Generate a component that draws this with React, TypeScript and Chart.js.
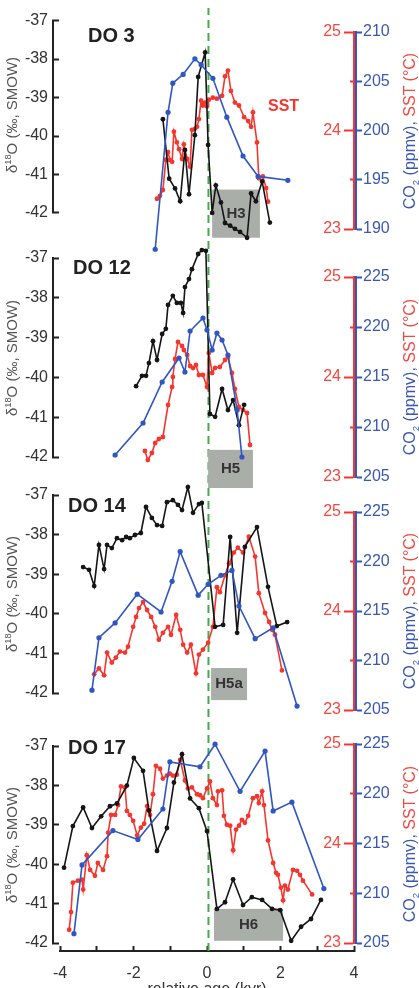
import React, { useEffect, useRef } from 'react';
import { Chart, registerables } from 'chart.js';

Chart.register(...registerables);

const W = 419;
const H = 988;
const FONT = '"Liberation Sans", Arial, Helvetica, sans-serif';
Chart.defaults.font.family = FONT;

// ---------- axis values ----------
const AGE_RANGE: [number, number] = [-4, 4];
const AGE_LABELED = [-4, -2, 0, 2, 4];
const O18_RANGE: [number, number] = [-42, -37];
const SST_RANGE: [number, number] = [23, 25];
const CO2_RANGE_DO3: [number, number] = [190, 210];
const CO2_RANGE_DO12: [number, number] = [205, 225];
const CO2_RANGE_DO14: [number, number] = [205, 225];
const CO2_RANGE_DO17: [number, number] = [205, 225];
const ZERO_AGE = 0.04;

// ---------- DO 3 ----------
const DO3_O18: [number, number][] = [
  [-1.20, -39.56], [-1.03, -41.09], [-0.87, -41.34], [-0.73, -41.67], [-0.60, -40.35], [-0.49, -41.49],
  [-0.33, -39.97], [-0.24, -38.47], [-0.05, -37.84], [0.03, -40.22], [0.14, -41.97], [0.24, -41.26],
  [0.38, -41.70], [0.49, -42.23], [0.63, -42.30], [0.76, -42.38], [0.90, -42.46], [1.09, -42.61],
  [1.20, -41.47], [1.33, -41.67], [1.50, -41.16], [1.71, -42.22],
];
const DO3_SST: [number, number][] = [
  [-1.36, 23.32], [-1.28, 23.35], [-1.20, 23.41], [-1.12, 23.72], [-1.06, 23.80], [-1.01, 23.72],
  [-0.95, 23.70], [-0.90, 24.01], [-0.82, 23.90], [-0.76, 23.83], [-0.68, 23.73], [-0.63, 23.88],
  [-0.54, 23.73], [-0.46, 23.65], [-0.41, 24.03], [-0.33, 24.04], [-0.27, 24.06], [-0.22, 24.14],
  [-0.16, 24.33], [-0.11, 24.28], [-0.05, 24.31], [0.00, 24.27], [0.05, 24.34], [0.16, 24.36],
  [0.27, 24.35], [0.41, 24.38], [0.49, 24.58], [0.57, 24.64], [0.65, 24.43], [0.76, 24.31],
  [0.87, 24.28], [1.01, 24.16], [1.12, 24.12], [1.20, 24.06], [1.25, 24.21], [1.36, 23.90],
  [1.41, 23.53], [1.52, 23.55], [1.61, 23.43], [1.66, 23.29],
];
const DO3_CO2: [number, number][] = [
  [-1.41, 188.0], [-1.06, 202.1], [-0.93, 205.1], [-0.65, 206.0], [-0.33, 207.6], [-0.16, 207.0],
  [0.16, 205.6], [0.54, 201.6], [0.98, 197.6], [1.39, 195.5], [2.20, 195.1],
];

// ---------- DO 12 ----------
const DO12_O18: [number, number][] = [
  [-1.93, -40.22], [-1.77, -39.96], [-1.66, -39.96], [-1.58, -39.64], [-1.47, -39.09], [-1.36, -39.56],
  [-1.22, -38.91], [-1.12, -38.78], [-1.06, -38.18], [-0.93, -37.95], [-0.82, -38.13], [-0.71, -38.13],
  [-0.65, -38.38], [-0.60, -37.73], [-0.49, -37.53], [-0.41, -37.28], [-0.24, -36.90], [-0.14, -36.80],
  [-0.03, -36.82], [0.08, -40.92], [0.22, -40.99], [0.41, -40.29], [0.57, -40.82], [0.71, -40.57],
  [0.87, -41.20], [1.01, -40.69],
];
const DO12_SST: [number, number][] = [
  [-1.69, 23.26], [-1.61, 23.17], [-1.50, 23.24], [-1.41, 23.34], [-1.31, 23.38], [-1.20, 23.40],
  [-1.06, 23.72], [-0.95, 23.90], [-0.93, 24.00], [-0.87, 24.18], [-0.79, 24.35], [-0.68, 24.31],
  [-0.63, 24.27], [-0.54, 24.22], [-0.46, 24.11], [-0.38, 24.09], [-0.30, 24.12], [-0.22, 24.02],
  [-0.11, 24.02], [0.00, 23.90], [0.05, 24.24], [0.14, 24.04], [0.22, 24.09], [0.35, 24.10],
  [0.49, 24.17], [0.57, 24.20], [0.68, 24.04], [0.76, 23.88], [0.87, 23.70], [0.98, 23.67],
  [1.09, 23.64], [1.17, 23.32],
];
const DO12_CO2: [number, number][] = [
  [-2.50, 207.2], [-1.74, 210.4], [-1.22, 214.5], [-0.76, 216.9], [-0.60, 215.5], [-0.46, 219.6],
  [-0.11, 220.9], [0.00, 219.7], [0.14, 217.7], [0.27, 219.4], [0.41, 218.7], [0.57, 217.2],
  [0.82, 211.7], [0.95, 207.0],
];

// ---------- DO 14 ----------
const DO14_O18: [number, number][] = [
  [-3.37, -38.82], [-3.21, -38.89], [-3.07, -39.30], [-2.94, -38.26], [-2.80, -38.87], [-2.72, -38.26],
  [-2.59, -38.34], [-2.45, -38.09], [-2.31, -38.14], [-2.20, -38.06], [-2.10, -38.09], [-1.96, -38.01],
  [-1.80, -37.96], [-1.66, -37.30], [-1.50, -37.58], [-1.36, -37.76], [-1.22, -37.78], [-1.09, -37.18],
  [-0.93, -37.13], [-0.79, -37.25], [-0.68, -37.38], [-0.52, -36.80], [-0.38, -37.45], [-0.22, -37.23],
  [-0.14, -37.20], [0.22, -40.33], [0.44, -40.28], [0.63, -38.06], [0.82, -40.48], [1.03, -38.31],
  [1.36, -37.81], [1.66, -39.32], [1.90, -40.31], [2.18, -40.21],
];
const DO14_SST: [number, number][] = [
  [-3.07, 23.36], [-2.94, 23.42], [-2.80, 23.35], [-2.72, 23.58], [-2.59, 23.48], [-2.48, 23.53],
  [-2.37, 23.59], [-2.23, 23.58], [-2.15, 23.64], [-2.01, 23.84], [-1.93, 23.94], [-1.85, 24.03],
  [-1.74, 24.09], [-1.63, 24.01], [-1.52, 23.94], [-1.41, 23.84], [-1.31, 23.71], [-1.20, 23.78],
  [-1.06, 23.84], [-0.98, 23.76], [-0.84, 23.96], [-0.73, 23.81], [-0.65, 23.66], [-0.54, 23.58],
  [-0.44, 23.66], [-0.30, 23.37], [-0.22, 23.56], [-0.11, 23.61], [0.03, 23.68], [0.16, 23.84],
  [0.27, 24.24], [0.35, 24.19], [0.49, 24.36], [0.60, 24.48], [0.73, 24.59], [0.84, 24.64],
  [0.98, 24.59], [1.14, 24.75], [1.31, 24.55], [1.41, 24.18], [1.58, 23.98], [1.69, 23.89],
  [1.77, 23.81], [1.85, 23.76], [2.04, 23.40],
];
const DO14_CO2: [number, number][] = [
  [-3.13, 207.0], [-2.94, 212.3], [-2.50, 213.8], [-1.90, 216.7], [-1.25, 214.9], [-0.95, 218.0],
  [-0.73, 221.0], [-0.24, 216.6], [0.03, 217.7], [0.38, 218.6], [0.68, 219.1], [0.87, 215.5],
  [1.31, 212.2], [1.80, 213.3], [2.45, 205.4],
];

// ---------- DO 17 ----------
const DO17_O18: [number, number][] = [
  [-3.89, -40.15], [-3.65, -39.08], [-3.37, -38.60], [-3.13, -39.13], [-2.88, -38.83], [-2.64, -38.57],
  [-2.45, -38.50], [-2.18, -38.04], [-1.99, -37.33], [-1.74, -37.66], [-1.58, -38.68], [-1.36, -39.72],
  [-1.09, -39.13], [-0.90, -37.96], [-0.68, -37.23], [-0.46, -38.37], [-0.22, -38.62], [0.00, -39.21],
  [0.27, -41.21], [0.49, -41.04], [0.71, -40.45], [0.98, -41.11], [1.22, -40.91], [1.50, -40.98],
  [1.77, -41.21], [1.99, -41.24], [2.29, -42.03], [2.56, -41.67], [2.83, -41.47], [3.10, -40.98],
];
const DO17_SST: [number, number][] = [
  [-3.75, 23.10], [-3.70, 23.28], [-3.65, 23.58], [-3.51, 23.60], [-3.40, 23.61], [-3.37, 23.51],
  [-3.27, 23.86], [-3.18, 23.71], [-3.05, 23.65], [-2.97, 23.78], [-2.83, 23.71], [-2.72, 23.85],
  [-2.69, 24.09], [-2.61, 24.27], [-2.50, 24.27], [-2.42, 24.37], [-2.34, 24.56], [-2.23, 24.55],
  [-2.18, 24.31], [-2.10, 24.27], [-2.01, 24.21], [-1.90, 24.06], [-1.80, 24.14], [-1.71, 24.18],
  [-1.63, 24.36], [-1.55, 24.27], [-1.47, 24.48], [-1.39, 24.77], [-1.28, 24.74], [-1.20, 24.64],
  [-1.09, 24.67], [-1.01, 24.69], [-0.93, 24.67], [-0.82, 24.68], [-0.73, 24.83], [-0.60, 24.62],
  [-0.52, 24.54], [-0.41, 24.55], [-0.27, 24.48], [-0.19, 24.47], [-0.11, 24.44], [0.00, 24.54],
  [0.08, 24.61], [0.16, 24.44], [0.27, 24.37], [0.30, 24.51], [0.41, 24.52], [0.46, 24.26],
  [0.54, 24.17], [0.63, 24.16], [0.71, 23.91], [0.79, 24.12], [0.87, 24.16], [0.95, 24.22],
  [1.03, 24.19], [1.12, 24.26], [1.25, 24.44], [1.36, 24.46], [1.41, 24.39], [1.50, 24.51],
  [1.55, 24.37], [1.66, 24.01], [1.80, 23.78], [1.88, 23.68], [1.93, 23.66], [2.01, 23.53],
  [2.07, 23.40], [2.12, 23.55], [2.20, 23.51], [2.34, 23.71], [2.45, 23.70], [2.53, 23.66],
  [2.61, 23.60], [2.86, 23.46],
];
const DO17_CO2: [number, number][] = [
  [-3.62, 205.6], [-3.40, 212.6], [-2.56, 216.1], [-1.88, 215.2], [-1.20, 218.3], [-1.01, 223.1],
  [-0.19, 222.6], [0.22, 224.9], [0.90, 220.1], [1.58, 224.2], [1.80, 218.1], [2.31, 219.0],
  [3.18, 210.2],
];

// ---------- Heinrich event boxes (age from/to, d18O from/to) ----------
const BOX_H3 = { label: 'H3', x0: 0.14, x1: 1.44, y0: -41.37, y1: -42.61 };
const BOX_H5 = { label: 'H5', x0: 0.03, x1: 1.25, y0: -41.82, y1: -42.78 };
const BOX_H5A = { label: 'H5a', x0: 0.11, x1: 1.09, y0: -41.37, y1: -42.18 };
const BOX_H6 = { label: 'H6', x0: 0.19, x1: 2.07, y0: -41.21, y1: -42.03 };

// ---------- styles / layout ----------
const BLACK = '#151515';
const RED = '#f4362f';
const RED_TXT = '#f5473f';
const BLUE = '#2f56c2';
const BLUE_TXT = '#3a58b2';
const GREEN = '#46aa4b';
const BOXC = '#a9aea9';
const AX = '#222';
const TXT = '#333';
const X_LEFT = 60;
const X_RIGHT = 354;
const L_AXIS_X = 53;

type Panel = {
  name: string; o18: [number, number][]; sst: [number, number][]; co2: [number, number][];
  co2Range: [number, number]; box: typeof BOX_H3; L: [number, number]; R: [number, number];
  labelPos: [number, number]; sstLabel?: [number, number];
};

const PANELS: Panel[] = [
  { name: 'DO 3', o18: DO3_O18, sst: DO3_SST, co2: DO3_CO2, co2Range: CO2_RANGE_DO3, box: BOX_H3, L: [16, 213], R: [32, 229], labelPos: [88, 25], sstLabel: [268, 98] },
  { name: 'DO 12', o18: DO12_O18, sst: DO12_SST, co2: DO12_CO2, co2Range: CO2_RANGE_DO12, box: BOX_H5, L: [258, 457], R: [277, 477], labelPos: [73, 257] },
  { name: 'DO 14', o18: DO14_O18, sst: DO14_SST, co2: DO14_CO2, co2Range: CO2_RANGE_DO14, box: BOX_H5A, L: [495, 693], R: [512, 710], labelPos: [68, 495] },
  { name: 'DO 17', o18: DO17_O18, sst: DO17_SST, co2: DO17_CO2, co2Range: CO2_RANGE_DO17, box: BOX_H6, L: [746, 943], R: [744, 943], labelPos: [68, 737] },
];

function ext(lo: number, hi: number, pxTop: number, pxBot: number, T: number, B: number) {
  const ppu = (pxBot - pxTop) / (hi - lo);
  return { min: lo - (B - pxBot) / ppu, max: hi + (pxTop - T) / ppu };
}

const base = {
  responsive: false,
  animation: false as const,
  devicePixelRatio: 1,
  events: [] as any[],
  plugins: { legend: { display: false }, tooltip: { enabled: false } },
};

const tickFont = { size: 16, family: FONT };

function makeXChart(canvas: HTMLCanvasElement) {
  return new Chart(canvas, {
    type: 'line',
    data: {
      datasets: [{
        data: [[ZERO_AGE, 0], [ZERO_AGE, 1]] as any,
        borderColor: GREEN, borderWidth: 2, borderDash: [8, 5], pointRadius: 0,
      }],
    },
    options: {
      ...base,
      layout: { padding: { left: X_LEFT, right: W - X_RIGHT, top: 8, bottom: 0 } },
      scales: {
        x: {
          type: 'linear', position: 'bottom', min: AGE_RANGE[0], max: AGE_RANGE[1],
          ticks: {
            stepSize: 1, autoSkip: false, maxRotation: 0, color: TXT, font: tickFont, padding: 18,
            callback: (v: any) => (AGE_LABELED.includes(Number(v)) ? String(v) : ''),
          },
          grid: { drawOnChartArea: false, tickLength: -5, color: AX, tickWidth: 2 },
          border: { color: AX, width: 2 },
          afterFit: (s: any) => { s.height = 37; },
        },
        y: { type: 'linear', display: false, min: 0, max: 1 },
      },
    } as any,
  });
}

function makeLeftAxis(canvas: HTMLCanvasElement, p: Panel) {
  return new Chart(canvas, {
    type: 'line',
    data: { datasets: [] },
    options: {
      ...base,
      layout: { padding: { left: 0, right: W - X_RIGHT, top: p.L[0], bottom: H - p.L[1] } },
      scales: {
        x: { type: 'linear', display: false, min: AGE_RANGE[0], max: AGE_RANGE[1] },
        y: {
          type: 'linear', position: 'left', min: O18_RANGE[0], max: O18_RANGE[1],
          ticks: { stepSize: 1, color: TXT, font: tickFont, padding: 11 },
          grid: { drawOnChartArea: false, tickLength: -6, color: AX, tickWidth: 2 },
          border: { color: AX, width: 2 },
          afterFit: (s: any) => { s.width = L_AXIS_X; },
        },
      },
    } as any,
  });
}

function makeRightAxis(canvas: HTMLCanvasElement, p: Panel) {
  return new Chart(canvas, {
    type: 'line',
    data: { datasets: [] },
    options: {
      ...base,
      layout: { padding: { left: X_RIGHT - 40, right: W - (X_RIGHT + 2) - 40, top: p.R[0], bottom: H - p.R[1] } },
      scales: {
        x: { type: 'linear', display: false, min: AGE_RANGE[0], max: AGE_RANGE[1] },
        ySST: {
          type: 'linear', position: 'left', min: SST_RANGE[0], max: SST_RANGE[1],
          ticks: {
            stepSize: 0.5, color: RED_TXT, font: tickFont, padding: 3, autoSkip: false,
            callback: (v: any) => (Number.isInteger(Number(v)) ? String(v) : ''),
          },
          grid: {
            drawOnChartArea: false, tickLength: 10, color: RED, tickWidth: 2,
            tickBorderDash: (ctx: any) => (ctx.tick && Number.isInteger(ctx.tick.value) ? [] : [0, 6, 4, 30]),
          },
          border: { color: RED, width: 2 },
          afterFit: (s: any) => { s.width = 40; },
        },
        yCO2: {
          type: 'linear', position: 'right', min: p.co2Range[0], max: p.co2Range[1],
          ticks: { stepSize: 5, color: BLUE_TXT, font: tickFont, padding: 1 },
          grid: { drawOnChartArea: false, tickLength: 6, color: BLUE, tickWidth: 2 },
          border: { color: BLUE, width: 2 },
          afterFit: (s: any) => { s.width = 40; },
        },
      },
    } as any,
  });
}

const boxPlugin = {
  id: 'hbox',
  beforeDatasetsDraw(chart: any, _args: any, opts: any) {
    const b = opts.box;
    if (!b) return;
    const { ctx } = chart;
    const xs = chart.scales.x;
    const ys = chart.scales.yO;
    const x0 = xs.getPixelForValue(b.x0);
    const x1 = xs.getPixelForValue(b.x1);
    const y0 = ys.getPixelForValue(b.y0);
    const y1 = ys.getPixelForValue(b.y1);
    ctx.save();
    ctx.fillStyle = BOXC;
    ctx.fillRect(x0, y0, x1 - x0, y1 - y0);
    ctx.fillStyle = TXT;
    ctx.font = `bold 15px ${FONT}`;
    ctx.textAlign = 'center';
    ctx.textBaseline = 'middle';
    ctx.fillText(b.label, (x0 + x1) / 2, (y0 + y1) / 2);
    ctx.restore();
  },
};

function series(data: [number, number][], color: string, yAxisID: string, r = 2.4) {
  return {
    data: data as any,
    yAxisID,
    xAxisID: 'x',
    borderColor: color,
    backgroundColor: color,
    pointBackgroundColor: color,
    pointBorderWidth: 0,
    pointRadius: r,
    borderWidth: 1.6,
    tension: 0,
    clip: false as any,
  };
}

function makeData(canvas: HTMLCanvasElement, p: Panel) {
  const T = Math.max(0, Math.min(p.L[0], p.R[0]) - 60);
  const B = Math.min(H, Math.max(p.L[1], p.R[1]) + 60);
  return new Chart(canvas, {
    type: 'line',
    data: {
      datasets: [
        series(p.co2, BLUE, 'yC', 2.6),
        series(p.o18, BLACK, 'yO'),
        series(p.sst, RED, 'yS'),
      ],
    },
    options: {
      ...base,
      plugins: { ...base.plugins, hbox: { box: p.box } },
      layout: { padding: { left: X_LEFT, right: W - X_RIGHT, top: T, bottom: H - B } },
      scales: {
        x: { type: 'linear', display: false, min: AGE_RANGE[0], max: AGE_RANGE[1] },
        yO: { type: 'linear', display: false, ...ext(O18_RANGE[0], O18_RANGE[1], p.L[0], p.L[1], T, B) },
        yS: { type: 'linear', display: false, ...ext(SST_RANGE[0], SST_RANGE[1], p.R[0], p.R[1], T, B) },
        yC: { type: 'linear', display: false, ...ext(p.co2Range[0], p.co2Range[1], p.R[0], p.R[1], T, B) },
      },
    } as any,
    plugins: [boxPlugin],
  });
}

const canvasStyle: React.CSSProperties = { position: 'absolute', left: 0, top: 0, width: W, height: H };

export default function App() {
  const xRef = useRef<HTMLCanvasElement>(null);
  const leftRefs = useRef<(HTMLCanvasElement | null)[]>([]);
  const rightRefs = useRef<(HTMLCanvasElement | null)[]>([]);
  const dataRefs = useRef<(HTMLCanvasElement | null)[]>([]);

  useEffect(() => {
    const charts: Chart[] = [];
    charts.push(makeXChart(xRef.current!));
    PANELS.forEach((p, i) => {
      charts.push(makeLeftAxis(leftRefs.current[i]!, p));
      charts.push(makeRightAxis(rightRefs.current[i]!, p));
    });
    PANELS.forEach((p, i) => {
      charts.push(makeData(dataRefs.current[i]!, p));
    });
    return () => charts.forEach((c) => c.destroy());
  }, []);

  return (
    <div style={{ position: 'absolute', left: 0, top: 0, width: W, height: H, overflow: 'hidden', background: '#fff', fontFamily: FONT }}>
      <canvas ref={xRef} width={W} height={H} style={canvasStyle} />
      {PANELS.map((p, i) => (
        <React.Fragment key={'ax' + i}>
          <canvas ref={(el) => { leftRefs.current[i] = el; }} width={W} height={H} style={canvasStyle} />
          <canvas ref={(el) => { rightRefs.current[i] = el; }} width={W} height={H} style={canvasStyle} />
        </React.Fragment>
      ))}
      {PANELS.map((p, i) => (
        <canvas key={'d' + i} ref={(el) => { dataRefs.current[i] = el; }} width={W} height={H} style={canvasStyle} />
      ))}
      {PANELS.map((p, i) => (
        <React.Fragment key={'t' + i}>
          <div style={{ position: 'absolute', left: p.labelPos[0], top: p.labelPos[1], fontWeight: 'bold', fontSize: 20, lineHeight: '20px', color: '#222', whiteSpace: 'nowrap' }}>{p.name}</div>
          {p.sstLabel && (
            <div style={{ position: 'absolute', left: p.sstLabel[0], top: p.sstLabel[1], fontWeight: 'bold', fontSize: 16, lineHeight: '16px', color: RED, whiteSpace: 'nowrap' }}>SST</div>
          )}
          <div style={{ position: 'absolute', left: 12, top: (p.L[0] + p.L[1]) / 2, transform: 'translate(-50%,-50%) rotate(-90deg)', whiteSpace: 'nowrap', fontSize: 15, lineHeight: '16px', color: '#555' }}>
            δ<sup style={{ fontSize: '0.62em', lineHeight: 0 }}>18</sup>O (‰, SMOW)
          </div>
          <div style={{ position: 'absolute', left: 410, top: (p.R[0] + p.R[1]) / 2, transform: 'translate(-50%,-50%) rotate(-90deg)', whiteSpace: 'nowrap', fontSize: 16, lineHeight: '16px' }}>
            <span style={{ color: BLUE_TXT }}>CO<sub style={{ fontSize: '0.6em', lineHeight: 0 }}>2</sub> (ppmv),</span>{' '}
            <span style={{ color: RED_TXT }}>SST (°C)</span>
          </div>
        </React.Fragment>
      ))}
      <div style={{ position: 'absolute', left: 207, top: 981, transform: 'translateX(-50%)', whiteSpace: 'nowrap', fontSize: 16, lineHeight: '16px', color: TXT }}>relative age (kyr)</div>
    </div>
  );
}
